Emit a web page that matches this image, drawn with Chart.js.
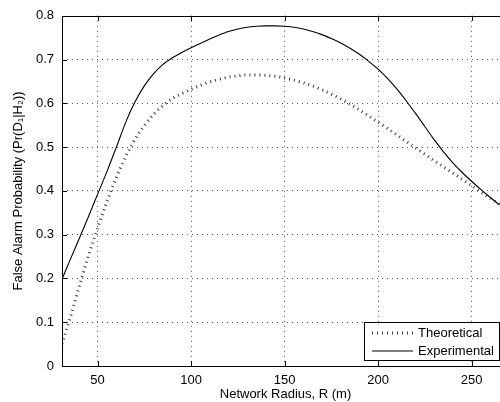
<!DOCTYPE html>
<html>
<head>
<meta charset="utf-8">
<script src="https://cdn.jsdelivr.net/npm/chart.js@4/dist/chart.umd.min.js"></script>
<style>
  html, body { margin: 0; padding: 0; background: #fff; width: 500px; height: 402px; overflow: hidden; }
  #wrap { width: 509px; height: 402px; }
</style>
</head>
<body>
<div id="wrap"><canvas id="pfaChart" width="509" height="402"></canvas></div>
<script>
// === Data ===
const radius = [31, 35, 40, 45, 50, 55, 60, 65, 70, 75, 80, 85, 90, 95, 100, 105, 110, 115, 120, 125,
  130, 135, 140, 145, 150, 155, 160, 165, 170, 175, 180, 185, 190, 195, 200, 205, 210, 215, 220, 225,
  230, 235, 240, 245, 250, 255, 260, 265];
const theoretical = [0.05, 0.105, 0.178, 0.25, 0.315, 0.375, 0.43, 0.478, 0.518, 0.549, 0.575, 0.595, 0.611, 0.622, 0.632, 0.641, 0.649, 0.655, 0.66, 0.663,
  0.665, 0.665, 0.664, 0.662, 0.658, 0.653, 0.647, 0.64, 0.631, 0.621, 0.61, 0.598, 0.585, 0.571, 0.557, 0.543, 0.528, 0.513, 0.498, 0.484,
  0.469, 0.455, 0.441, 0.426, 0.412, 0.397, 0.383, 0.369];
const experimental = [0.198, 0.239, 0.289, 0.34, 0.392, 0.444, 0.499, 0.556, 0.603, 0.64, 0.668, 0.689, 0.704, 0.716, 0.727, 0.737, 0.747, 0.756, 0.764, 0.77,
  0.774, 0.776, 0.777, 0.777, 0.776, 0.774, 0.77, 0.764, 0.757, 0.748, 0.738, 0.726, 0.712, 0.696, 0.678, 0.657, 0.633, 0.606, 0.577, 0.547,
  0.517, 0.489, 0.464, 0.442, 0.422, 0.403, 0.385, 0.368];
const xTicks = [50, 100, 150, 200, 250];
const yTicks = [0, 0.1, 0.2, 0.3, 0.4, 0.5, 0.6, 0.7, 0.8];

const FONT = 'Liberation Sans, Arial, Helvetica, sans-serif';

// === Box, inward ticks and legend (matlab look) ===
const matlabFrame = {
  id: 'matlabFrame',
  afterDraw(chart) {
    const ctx = chart.ctx;
    const a = chart.chartArea;
    const xs = chart.scales.x, ys = chart.scales.y;
    ctx.save();
    ctx.strokeStyle = '#000';
    ctx.lineWidth = 1;
    ctx.beginPath();
    ctx.rect(Math.round(a.left) + 0.5, Math.round(a.top) + 0.5, Math.round(a.right - a.left), Math.round(a.bottom - a.top));
    xTicks.forEach(v => {
      const px = Math.round(xs.getPixelForValue(v)) + 0.5;
      ctx.moveTo(px, a.bottom); ctx.lineTo(px, a.bottom - 5);
      ctx.moveTo(px, a.top); ctx.lineTo(px, a.top + 5);
    });
    yTicks.forEach(v => {
      const py = Math.round(ys.getPixelForValue(v)) + 0.5;
      ctx.moveTo(a.left, py); ctx.lineTo(a.left + 5, py);
    });
    ctx.stroke();

    // legend
    const lx = 364.5, ly = 322.5, lw = 135, lh = 38;
    ctx.fillStyle = '#fff';
    ctx.fillRect(lx, ly, lw, lh);
    ctx.strokeRect(lx, ly, lw, lh);
    ctx.font = '13px ' + FONT;
    ctx.textBaseline = 'middle';
    ctx.fillStyle = '#000';
    chart.data.datasets.forEach((ds, i) => {
      const y = 333 + i * 18;
      ctx.beginPath();
      ctx.strokeStyle = ds.borderColor;
      ctx.lineWidth = ds.borderWidth;
      ctx.setLineDash(ds.borderDash || []);
      ctx.moveTo(372, y); ctx.lineTo(413, y);
      ctx.stroke();
      ctx.setLineDash([]);
      ctx.fillText(ds.label, 418, y + 0.5);
    });
    ctx.restore();
  }
};

// grid line colour, skipping the ones that sit on the box
const gridColor = (min, max) => c => (c.tick && (c.tick.value === min || c.tick.value === max)) ? 'rgba(0,0,0,0)' : '#555';

// === Chart ===
const ctx = document.getElementById('pfaChart').getContext('2d');
const pfaChart = new Chart(ctx, {
  type: 'line',
  data: {
    datasets: [{
      label: 'Theoretical',
      data: radius.map((r, i) => ({ x: r, y: theoretical[i] })),
      borderColor: '#3a3a3a',
      borderWidth: 3,
      borderDash: [1, 4],
      pointRadius: 0,
      cubicInterpolationMode: 'monotone',
      fill: false
    }, {
      label: 'Experimental',
      data: radius.map((r, i) => ({ x: r, y: experimental[i] })),
      borderColor: '#000',
      borderWidth: 1.1,
      pointRadius: 0,
      cubicInterpolationMode: 'monotone',
      fill: false
    }]
  },
  options: {
    responsive: false,
    animation: false,
    devicePixelRatio: 1,
    layout: { padding: { top: 14, right: 0, bottom: 0, left: 0 } },
    plugins: {
      legend: { display: false },
      tooltip: { enabled: false }
    },
    scales: {
      x: {
        type: 'linear',
        min: 31,
        max: 270,
        afterBuildTicks: s => { s.ticks = xTicks.map(v => ({ value: v })); },
        afterFit: s => { s.height = 36; },
        grid: { color: '#555', drawTicks: false },
        border: { display: false, dash: [1, 4] },
        ticks: { color: '#000', padding: 7, maxRotation: 0, font: { family: FONT, size: 13 } },
        title: {
          display: true,
          text: 'Network Radius, R (m)',
          color: '#000',
          padding: { top: 0, bottom: 0 },
          font: { family: FONT, size: 13 }
        }
      },
      y: {
        min: 0,
        max: 0.8,
        afterBuildTicks: s => { s.ticks = yTicks.map(v => ({ value: v })); },
        afterFit: s => { s.width = 62; },
        grid: { color: gridColor(0, 0.8), drawTicks: false },
        border: { display: false, dash: [1, 4] },
        ticks: { color: '#000', padding: 8, font: { family: FONT, size: 13 } },
        title: {
          display: true,
          text: 'False Alarm Probability (Pr(D\u2081|H\u2082))',
          color: '#000',
          padding: { top: 11, bottom: 0 },
          font: { family: FONT, size: 13 }
        }
      }
    }
  },
  plugins: [matlabFrame]
});
</script>
</body>
</html>
